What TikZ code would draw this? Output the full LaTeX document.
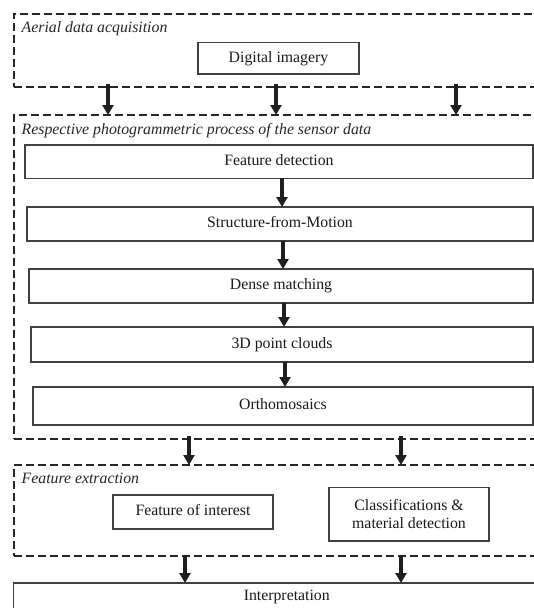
\documentclass[tikz,border=0pt]{standalone}
\usepackage{fontspec}
\setmainfont{Liberation Serif}
\usetikzlibrary{arrows.meta}
\begin{document}
\begin{tikzpicture}[x=1pt,y=-1pt,
  font=\fontsize{15.8}{18.5}\selectfont,
  container/.style={draw=black!85, line width=2pt, dash pattern=on 8pt off 4pt, inner sep=0pt, outer sep=0pt},
  stepbox/.style={draw=black!75, line width=1.2pt, inner sep=0pt, outer sep=0pt, text=black!90, align=center},
  oneline/.style={text height=10.8pt, text depth=3.4pt},
  title/.style={anchor=base west, inner sep=0pt, font=\fontsize{15.8}{18.5}\selectfont\itshape, text=black!85},
  bigarrow/.style={draw=black!88, line width=3.8pt, -{Triangle[width=11pt,length=10pt]}}]
\useasboundingbox (0,0) rectangle (534,608);
\clip (0,0) rectangle (534,608);
\fill[white] (0,0) rectangle (534,608);

% containers
\node[container, minimum width=546.5pt, minimum height=73.8pt] (c1) at (286.75,50.4) {};
\node[container, minimum width=546.5pt, minimum height=324pt] (c2) at (286.75,277) {};
\node[container, minimum width=546.5pt, minimum height=91pt] (c3) at (286.75,510.5) {};

% titles
\node[title] (t1) at (21.5,32) {Aerial data acquisition};
\node[title] (t2) at (21.5,134) {Respective photogrammetric process of the sensor data};
\node[title] (t3) at (21.5,483.5) {Feature extraction};

% boxes
\node[stepbox, oneline, minimum width=161pt, minimum height=31.3pt] (di) at (278.5,58.35) {Digital imagery};
\node[stepbox, oneline, minimum width=508pt, minimum height=33.3pt] (fd) at (279,161.65) {Feature detection};
\node[stepbox, oneline, minimum width=506pt, minimum height=34pt] (sfm) at (280,224) {Structure-from-Motion};
\node[stepbox, oneline, minimum width=504pt, minimum height=34pt] (dm) at (281,286) {Dense matching};
\node[stepbox, oneline, minimum width=502pt, minimum height=35pt] (pc) at (282,344.5) {3D point clouds};
\node[stepbox, oneline, minimum width=500pt, minimum height=38pt] (om) at (283,406) {Orthomosaics};
\node[stepbox, oneline, minimum width=160pt, minimum height=34pt] (foi) at (193,512) {Feature of interest};
\node[stepbox, minimum width=160pt, minimum height=53.5pt] (cls) at (409,514.25) {Classifications \&\\material detection};
\node[stepbox, oneline, minimum width=546.5pt, minimum height=28pt] (ip) at (286.75,597) {Interpretation};

% arrow columns
\coordinate (a1) at (108,0);
\coordinate (a2) at (276,0);
\coordinate (a3) at (456,0);
\coordinate (b1) at (189,0);
\coordinate (b2) at (401,0);
\coordinate (d1) at (185,0);
\coordinate (d2) at (401,0);

% arrows between containers
\foreach \a in {a1,a2,a3}
  \draw[bigarrow] ([yshift=3pt]c1.south -| \a) -- (c2.north -| \a);
\foreach \a in {b1,b2}
  \draw[bigarrow] ([yshift=3pt]c2.south -| \a) -- (c3.north -| \a);
\foreach \a in {d1,d2}
  \draw[bigarrow] ([yshift=1pt]c3.south -| \a) -- (ip.north -| \a);

% arrows within the process
\draw[bigarrow] ([xshift=3pt]fd.south) -- ([xshift=3pt]fd.south |- sfm.north);
\draw[bigarrow] ([xshift=3pt]sfm.south) -- ([xshift=3pt]sfm.south |- dm.north);
\draw[bigarrow] ([xshift=3pt]dm.south) -- ([xshift=3pt]dm.south |- pc.north);
\draw[bigarrow] ([xshift=3pt]pc.south) -- ([xshift=3pt]pc.south |- om.north);
\end{tikzpicture}
\end{document}
